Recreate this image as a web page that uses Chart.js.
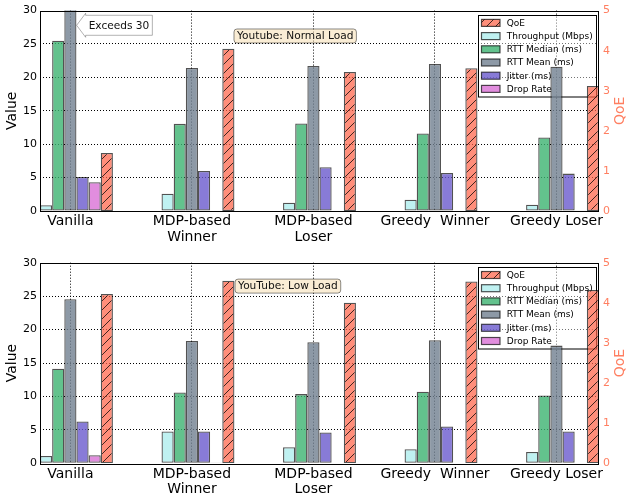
<!DOCTYPE html>
<html><head><meta charset="utf-8">
<script src="https://cdn.jsdelivr.net/npm/chart.js@4.4.1/dist/chart.umd.min.js"></script>
<style>
html,body{margin:0;padding:0;background:#fff;}
#wrap{position:relative;width:626px;height:499px;background:#fff;}
.pane{position:absolute;left:0;width:626px;}
canvas{display:block;}
</style></head><body>
<div id="wrap">
  <div class="pane" style="top:0;height:250px"><canvas id="c1" width="626" height="250"></canvas></div>
  <div class="pane" style="top:250px;height:249px"><canvas id="c2" width="626" height="249"></canvas></div>
</div>
<script>
// ---------------- data ----------------
const categories = ['Vanilla', ['MDP-based', 'Winner'], ['MDP-based', 'Loser'], 'Greedy  Winner', 'Greedy Loser'];
const seriesNames = ['Throughput (Mbps)', 'RTT Median (ms)', 'RTT Mean (ms)', 'Jitter (ms)', 'Drop Rate', 'QoE'];

// Youtube: Normal Load
const normalThroughput = [0.85, 2.6, 1.25, 1.7, 0.95];
const normalRttMedian  = [25.5, 13.05, 13.1, 11.6, 11.0];
const normalRttMean    = [36.0, 21.4, 21.7, 22.0, 21.6];
const normalJitter     = [5.1, 6.0, 6.55, 5.7, 5.6];
const normalDrop       = [4.3, 0, 0, 0, 0.1];
const normalQoE        = [1.45, 4.05, 3.47, 3.56, 3.12];

// YouTube: Low Load
const lowThroughput = [1.1, 4.75, 2.4, 2.1, 1.7];
const lowRttMedian  = [14.15, 10.6, 10.35, 10.7, 10.15];
const lowRttMean    = [24.55, 18.3, 18.1, 18.4, 17.6];
const lowJitter     = [6.25, 4.75, 4.6, 5.5, 4.75];
const lowDrop       = [1.2, 0.05, 0, 0, 0];
const lowQoE        = [4.22, 4.55, 4.0, 4.53, 4.32];

const valueTicks = [0, 5, 10, 15, 20, 25, 30];
const qoeTicks = [0, 1, 2, 3, 4, 5];

// ---------------- styling ----------------
const FONT = "'DejaVu Sans', sans-serif";
Chart.defaults.font.family = FONT;
const palette = [
  'rgba(175,238,238,0.8)',  // throughput
  'rgba(60,179,113,0.8)',   // rtt median
  'rgba(112,128,144,0.8)',  // rtt mean
  'rgba(106,90,205,0.8)',   // jitter
  'rgba(218,112,214,0.8)',  // drop
  'rgba(255,99,71,0.72)'    // qoe
];
const EDGE = 'rgba(0,0,0,0.68)';
const QOE_AXIS = '#ff7f61';

function makeHatch(ctx) {
  const s = 9;
  const c = document.createElement('canvas');
  c.width = s; c.height = s;
  const g = c.getContext('2d');
  g.fillStyle = palette[5];
  g.fillRect(0, 0, s, s);
  g.strokeStyle = 'rgba(0,0,0,0.75)';
  g.lineWidth = 1;
  g.beginPath();
  g.moveTo(0, s); g.lineTo(s, 0);
  g.moveTo(-2, 2); g.lineTo(2, -2);
  g.moveTo(s - 2, s + 2); g.lineTo(s + 2, s - 2);
  g.stroke();
  return ctx.createPattern(c, 'repeat');
}

function roundRect(ctx, x, y, w, h, r) {
  ctx.beginPath();
  ctx.moveTo(x + r, y);
  ctx.lineTo(x + w - r, y); ctx.quadraticCurveTo(x + w, y, x + w, y + r);
  ctx.lineTo(x + w, y + h - r); ctx.quadraticCurveTo(x + w, y + h, x + w - r, y + h);
  ctx.lineTo(x + r, y + h); ctx.quadraticCurveTo(x, y + h, x, y + h - r);
  ctx.lineTo(x, y + r); ctx.quadraticCurveTo(x, y, x + r, y);
  ctx.closePath();
}

function makeChart(canvasId, series, cfg) {
  const canvas = document.getElementById(canvasId);
  const ctx = canvas.getContext('2d');
  const hatch = makeHatch(ctx);
  const fills = palette.slice(0, 5).concat([hatch]);
  const datasets = series.map((vals, k) => ({
    label: seriesNames[k],
    data: vals,
    backgroundColor: fills[k],
    borderColor: EDGE,
    borderWidth: 1.3,
    borderSkipped: false,
    inflateAmount: 0,
    xAxisID: 'xb',
    yAxisID: k === 5 ? 'y1' : 'y',
    categoryPercentage: 0.6,
    barPercentage: 1.0
  }));
  const legendOrder = [5, 0, 1, 2, 3, 4];
  const idxTicks = categories.map((_, i) => ({ value: i }));

  const decor = {
    id: 'decor_' + canvasId,
    beforeDatasetsDraw(chart) {
      const c = chart.ctx, a = chart.chartArea;
      const w = 118, h = 81.5;
      const left = a.right - 3 - w, top = a.top + 4.3;
      c.save();
      c.fillStyle = 'rgba(255,255,255,0.45)';
      c.fillRect(left, top, w, h);
      c.strokeStyle = '#000'; c.lineWidth = 1;
      c.strokeRect(Math.round(left) + 0.5, Math.round(top) + 0.5, w, h);
      c.font = '9px ' + FONT;
      c.textBaseline = 'middle'; c.textAlign = 'left';
      legendOrder.forEach((k, i) => {
        const cy = top + 8 + i * 13.2;
        c.fillStyle = fills[k];
        c.fillRect(left + 3.5, cy - 3.5, 18.5, 7);
        c.strokeStyle = EDGE; c.lineWidth = 1.2;
        c.strokeRect(left + 3.5, cy - 3.5, 18.5, 7);
        c.fillStyle = '#000';
        c.fillText(seriesNames[k], left + 28.7, cy + 0.5);
      });
      c.restore();
    },
    afterDatasetsDraw(chart) {
      const c = chart.ctx, a = chart.chartArea;
      const xb = chart.scales.xb, y = chart.scales.y;
      c.save();
      // plot frame
      c.strokeStyle = '#000'; c.lineWidth = 1;
      c.strokeRect(Math.round(a.left) + 0.5, Math.round(a.top) + 0.5, Math.round(a.right - a.left) - 1, Math.round(a.bottom - a.top));
      // tag box
      c.font = '10.6px ' + FONT;
      c.textAlign = 'center'; c.textBaseline = 'middle';
      if (cfg.tag) {
        const cx = xb.getPixelForValue(cfg.tag.x), cy = y.getPixelForValue(cfg.tag.y);
        const tw = c.measureText(cfg.tag.text).width;
        const bw = tw + 6, bh = 14;
        roundRect(c, cx - bw / 2, cy - bh / 2, bw, bh, 3);
        c.fillStyle = 'rgba(245,222,179,0.55)'; c.fill();
        c.strokeStyle = 'rgba(0,0,0,0.45)'; c.lineWidth = 1; c.stroke();
        c.fillStyle = '#111';
        c.fillText(cfg.tag.text, cx, cy + 0.5);
      }
      if (cfg.arrow) {
        const cx = xb.getPixelForValue(cfg.arrow.x), cy = y.getPixelForValue(cfg.arrow.y);
        const tw = c.measureText(cfg.arrow.text).width;
        const bl = cx - tw / 2 - 3, br = cx + tw / 2 + 3;
        const bt = cy - 10, bb = cy + 10;
        c.beginPath();
        c.moveTo(bl, bt); c.lineTo(br, bt); c.lineTo(br, bb); c.lineTo(bl, bb);
        c.lineTo(bl, bb + 2); c.lineTo(bl - 9, cy); c.lineTo(bl, bt - 2);
        c.closePath();
        c.fillStyle = '#fff'; c.fill();
        c.strokeStyle = 'rgba(0,0,0,0.3)'; c.lineWidth = 1; c.stroke();
        c.fillStyle = '#111';
        c.fillText(cfg.arrow.text, cx, cy + 0.5);
      }
      // right axis title
      c.font = '14px ' + FONT;
      c.fillStyle = QOE_AXIS;
      c.translate(620, (a.top + a.bottom) / 2);
      c.rotate(-Math.PI / 2);
      c.fillText('QoE', 0, 0);
      c.restore();
    }
  };

  const gridColor = (ctxg) => {
    const v = ctxg.tick ? ctxg.tick.value : null;
    return (v === 0 || v === 30) ? 'rgba(0,0,0,0)' : '#000';
  };

  return new Chart(canvas, {
    type: 'bar',
    data: { labels: categories.map((_, i) => i), datasets },
    options: {
      responsive: false,
      animation: false,
      devicePixelRatio: 1,
      datasets: { bar: { barPercentage: 1.0, categoryPercentage: 0.6 } },
      layout: { padding: { top: cfg.top, left: 0, right: 0, bottom: 0 } },
      plugins: { legend: { display: false }, tooltip: { enabled: false } },
      scales: {
        xb: {
          type: 'linear', display: false, min: -0.3, max: 4.3, offset: false,
          grid: { offset: false },
          afterBuildTicks: s => { s.ticks = idxTicks.map(t => ({ value: t.value })); }
        },
        x: {
          type: 'linear', position: 'bottom', min: -0.25, max: 4.35, offset: false,
          afterBuildTicks: s => { s.ticks = idxTicks.map(t => ({ value: t.value })); },
          ticks: {
            callback: v => categories[v],
            font: { size: 14, lineHeight: 1.12 }, color: '#000',
            maxRotation: 0, minRotation: 0, autoSkip: false, padding: 3
          },
          grid: { color: '#000', lineWidth: 1, drawTicks: false, offset: false },
          border: { display: false, dash: [1, 2] },
          afterFit: s => { s.height = cfg.xh; }
        },
        y: {
          type: 'linear', position: 'left', min: 0, max: 30,
          afterBuildTicks: s => { s.ticks = valueTicks.map(v => ({ value: v })); },
          ticks: { font: { size: 11 }, color: '#000', padding: 3 },
          grid: { color: gridColor, lineWidth: 1, drawTicks: false },
          border: { display: false, dash: [1, 2] },
          title: { display: true, text: 'Value', color: '#000', font: { size: 14, lineHeight: 1 }, padding: { top: 5.5, bottom: 0 } },
          afterFit: s => { s.width = 40; }
        },
        y1: {
          type: 'linear', position: 'right', min: 0, max: 5,
          afterBuildTicks: s => { s.ticks = qoeTicks.map(v => ({ value: v })); },
          ticks: { font: { size: 11 }, color: QOE_AXIS, padding: 4 },
          grid: { display: false, drawTicks: false },
          border: { display: false },
          afterFit: s => { s.width = 27; }
        }
      }
    },
    plugins: [decor]
  });
}

makeChart('c1',
  [normalThroughput, normalRttMedian, normalRttMean, normalJitter, normalDrop, normalQoE],
  { top: 10, xh: 39,
    tag: { text: 'Youtube: Normal Load', x: 1.8, y: 26.2 },
    arrow: { text: 'Exceeds 30', x: 0.35, y: 27.8 } });

makeChart('c2',
  [lowThroughput, lowRttMedian, lowRttMean, lowJitter, lowDrop, lowQoE],
  { top: 12.7, xh: 35.7,
    tag: { text: 'YouTube: Low Load', x: 1.74, y: 26.5 } });
</script>
</body></html>
